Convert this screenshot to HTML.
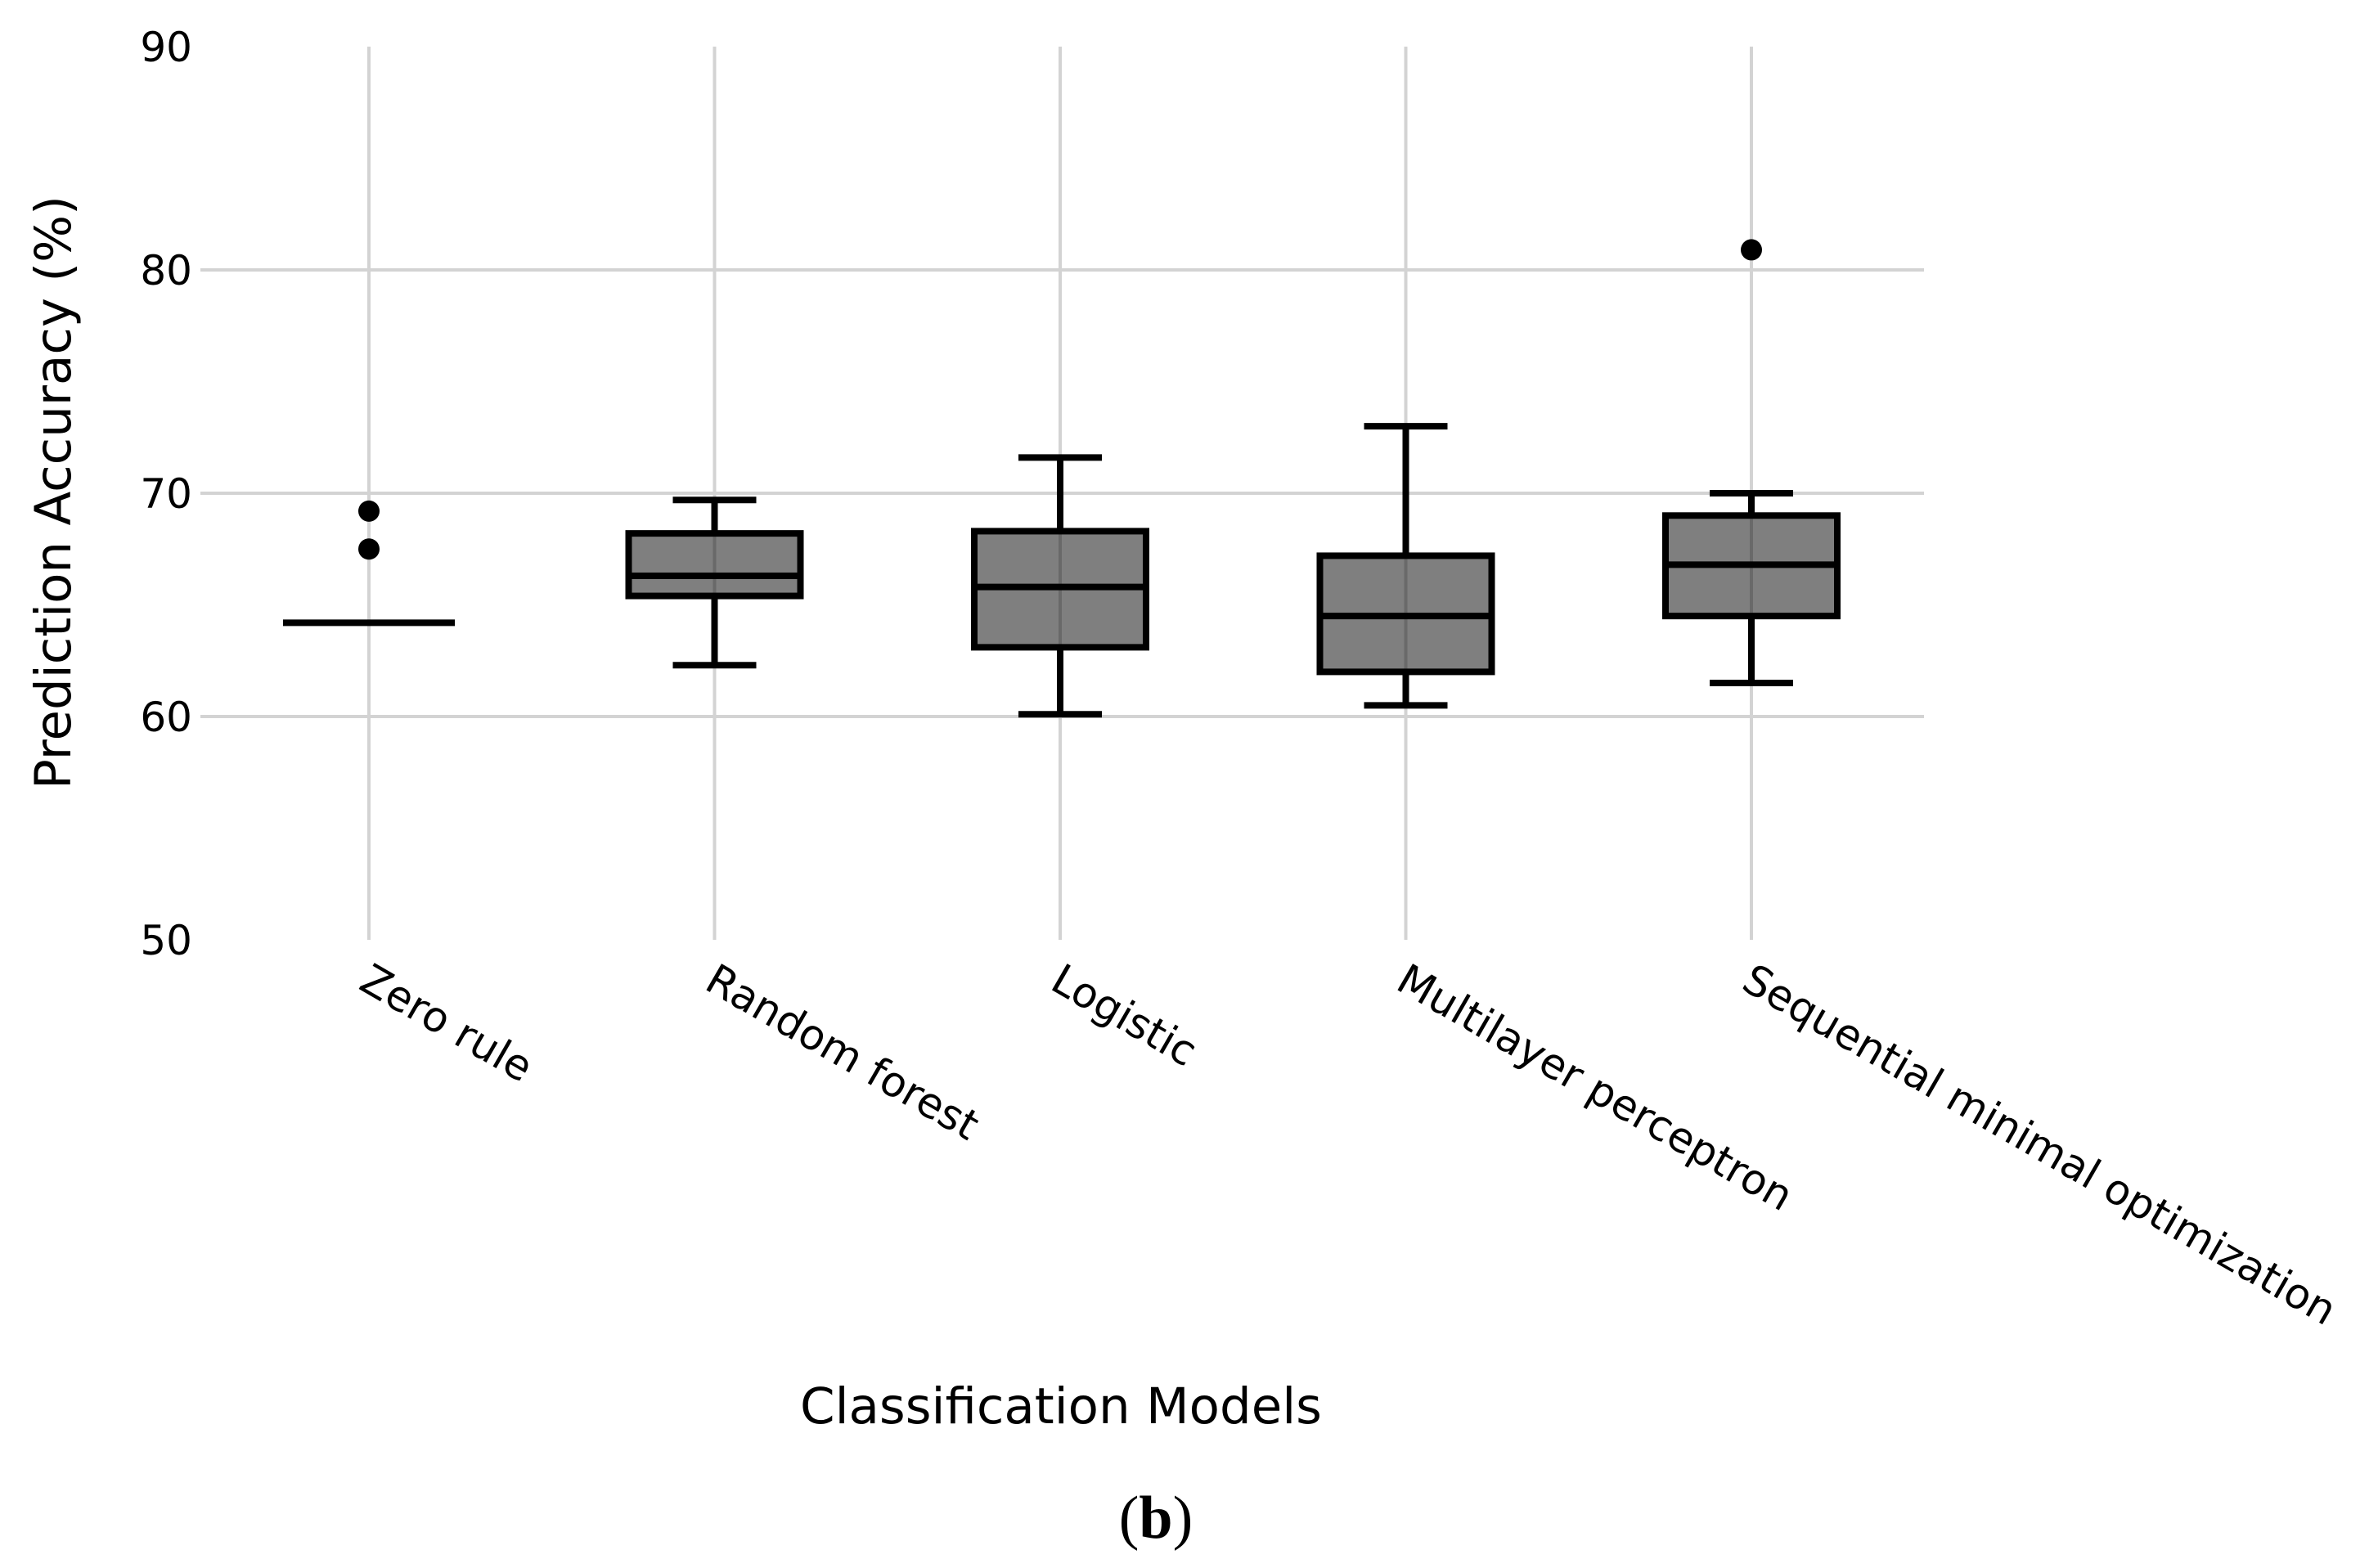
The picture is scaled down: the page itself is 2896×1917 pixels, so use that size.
<!DOCTYPE html>
<html><head><meta charset="utf-8"><style>
html,body{margin:0;padding:0;background:#fff;}
svg{display:block;}
text{font-family:"DejaVu Sans","Liberation Sans",sans-serif;fill:#000;}
</style></head><body>
<svg id="chart" width="2896" height="1917" viewBox="0 0 2896 1917" xmlns="http://www.w3.org/2000/svg">
<g id="grid"></g>
<g id="marks"></g>
<g id="labels"></g>
<text x="1297" y="1740" font-size="61" text-anchor="middle">Classification Models</text>
<text x="0" y="0" font-size="61" text-anchor="middle" transform="translate(86,602) rotate(-90)">Prediction Accuracy (%)</text>
<text x="1413" y="1880" font-size="74" text-anchor="middle" style="font-family:'Liberation Serif',serif">(<tspan font-weight="bold">b</tspan>)</text>
</svg>
<script>
const categories = ["Zero rule","Random forest","Logistic","Multilayer perceptron","Sequential minimal optimization"];
const q1 = [64.2, 65.4, 63.1, 62.0, 64.5];
const median = [64.2, 66.3, 65.8, 64.5, 66.8];
const q3 = [64.2, 68.2, 68.3, 67.2, 69.0];
const whiskerLow = [64.2, 62.3, 60.1, 60.5, 61.5];
const whiskerHigh = [64.2, 69.7, 71.6, 73.0, 70.0];
const outliers = [[69.2, 67.5], [], [], [], [80.9]];
const yTicks = [50, 60, 70, 80, 90];

const NS = "http://www.w3.org/2000/svg";
const yMin = 50, yMax = 90, yTop = 57, yBot = 1149;
function yScale(v){ return yBot - (v - yMin) / (yMax - yMin) * (yBot - yTop); }
const xFirst = 451, xStep = 422.5;
function xScale(i){ return xFirst + i * xStep; }
function mk(tag, attrs, parent){
  const e = document.createElementNS(NS, tag);
  for (const k in attrs) e.setAttribute(k, attrs[k]);
  parent.appendChild(e); return e;
}
const grid = document.getElementById('grid');
const marks = document.getElementById('marks');
const labels = document.getElementById('labels');

yTicks.forEach(t => {
  const y = yScale(t);
  if (t > yMin && t < yMax) {
    const l = mk('line', {x1:245, x2:2352, y1:y, y2:y, stroke:'#d3d3d3', 'stroke-width':4}, grid);
    
    
  }
  const tx = mk('text', {x:235, y:y + 18, 'font-size':50, 'text-anchor':'end'}, labels);
  tx.textContent = t;
  
  
});
categories.forEach((c, i) => {
  const x = xScale(i);
  const l = mk('line', {x1:x, x2:x, y1:yTop, y2:yBot, stroke:'#d3d3d3', 'stroke-width':4}, grid);
  
  
  const tx = mk('text', {x:0, y:0, 'font-size':51, 'dominant-baseline':'hanging', transform:'translate(' + (x + 4) + ',1176) rotate(30)'}, labels);
  tx.textContent = c;
  
  
});

const bw = 105, cw = 51, sw = 8;
categories.forEach((c, i) => {
  const x = xScale(i);
  const g = mk('g', {}, marks);
  
  
  if (q3[i] - q1[i] > 0.01) {
    const wl = mk('line', {x1:x, x2:x, y1:yScale(q3[i]), y2:yScale(whiskerHigh[i]), stroke:'#000', 'stroke-width':sw}, g);
    
    
    const wl2 = mk('line', {x1:x, x2:x, y1:yScale(q1[i]), y2:yScale(whiskerLow[i]), stroke:'#000', 'stroke-width':sw}, g);
    
    
    [whiskerHigh[i], whiskerLow[i]].forEach(v => {
      const cap = mk('line', {x1:x - cw, x2:x + cw, y1:yScale(v), y2:yScale(v), stroke:'#000', 'stroke-width':sw}, g);
      
      
    });
    const r = mk('rect', {x:x - bw, y:yScale(q3[i]), width:2 * bw, height:yScale(q1[i]) - yScale(q3[i]), fill:'rgba(0,0,0,0.5)', stroke:'#000', 'stroke-width':sw}, g);
    
    
  }
  const m = mk('line', {x1:x - bw, x2:x + bw, y1:yScale(median[i]), y2:yScale(median[i]), stroke:'#000', 'stroke-width':sw}, g);
  
  
  outliers[i].forEach(v => {
    const o = mk('circle', {cx:x, cy:yScale(v), r:13, fill:'#000'}, g);
    
    
  });
});
</script>
</body></html>
